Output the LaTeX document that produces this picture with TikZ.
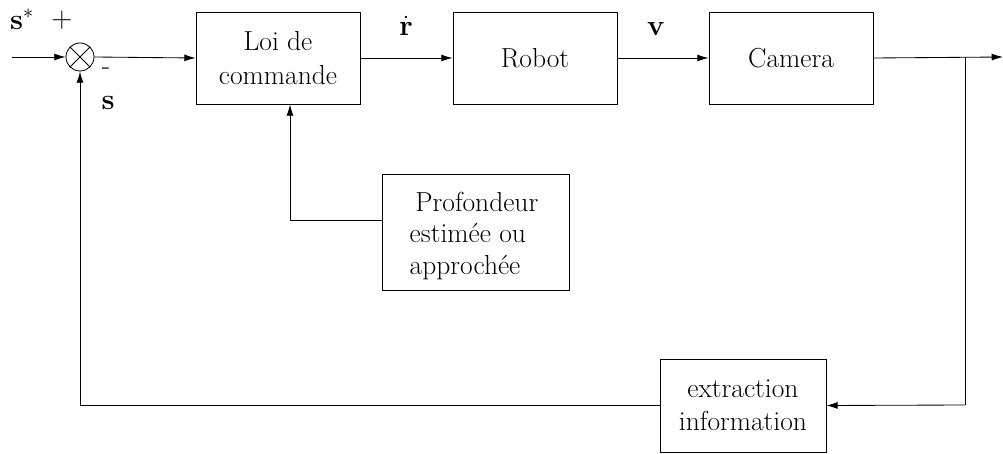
\documentclass[tikz,border=0pt]{standalone}
\usetikzlibrary{arrows.meta}
\begin{document}
\begin{tikzpicture}[x=0.709pt,y=-0.709pt,
  ln/.style={line width=0.6pt},
  arr/.style={ln,-{Latex[length=8pt,width=5pt]}},
  blk/.style={draw,line width=0.6pt,inner sep=0pt,align=center,font=\fontsize{19.5}{23.5}\selectfont},
  lbl/.style={inner sep=0pt,font=\fontsize{19.5}{23}\selectfont}]
\useasboundingbox (0,0) rectangle (1003,454);
\node[draw,circle,ln,minimum size=28*0.709pt,inner sep=0pt] (sum) at (80,57) {};
\draw[ln] (sum.45) -- (sum.225) (sum.135) -- (sum.315);
\node[blk,minimum width=164*0.709pt,minimum height=92*0.709pt] (loi) at (278,58) {Loi de\\commande};
\node[blk,minimum width=164*0.709pt,minimum height=92*0.709pt] (rob) at (535,58) {Robot};
\node[blk,minimum width=164*0.709pt,minimum height=92*0.709pt] (cam) at (791,58) {Camera};
\node[blk,minimum width=187*0.709pt,minimum height=116*0.709pt] (pro) at (475.5,232) {};
\node[inner sep=0pt,align=left,font=\fontsize{19.5}{22}\selectfont] (prot) at (474,236) {\hspace{4pt}Profondeur\\estimée ou\\approchée};
\node[blk,minimum width=166*0.709pt,minimum height=93*0.709pt] (ext) at (743,405.5) {extraction\\information};
\coordinate (in) at (12,57);
\coordinate (out) at (1003,57);
\coordinate (br) at (965,57);
\coordinate (dn) at (965,405);
\node[lbl] (ss) at (22,19) {$\mathbf{s}^*$};
\node[lbl] (pl) at (62,20) {$+$};
\node[lbl] (mi) at (106,71) {-};
\node[lbl] (s) at (108,103) {$\mathbf{s}$};
\node[lbl] (rd) at (406,26) {$\dot{\mathbf{r}}$};
\node[lbl] (v) at (656,29) {$\mathbf{v}$};
\draw[arr] (in) -- (sum.west);
\draw[arr] (sum.east) -- (loi.west);
\draw[arr] (loi.east) -- (rob.west);
\draw[arr] (rob.east) -- (cam.west);
\draw[arr] (cam.east) -- (out);
\draw[ln] (br) -- (dn);
\draw[arr] (dn) -- (ext.east);
\draw[arr] (ext.west) -| (sum.south);
\draw[arr] (pro.west |- 0,220) -| (loi.south -| 290,0);
\end{tikzpicture}
\end{document}
